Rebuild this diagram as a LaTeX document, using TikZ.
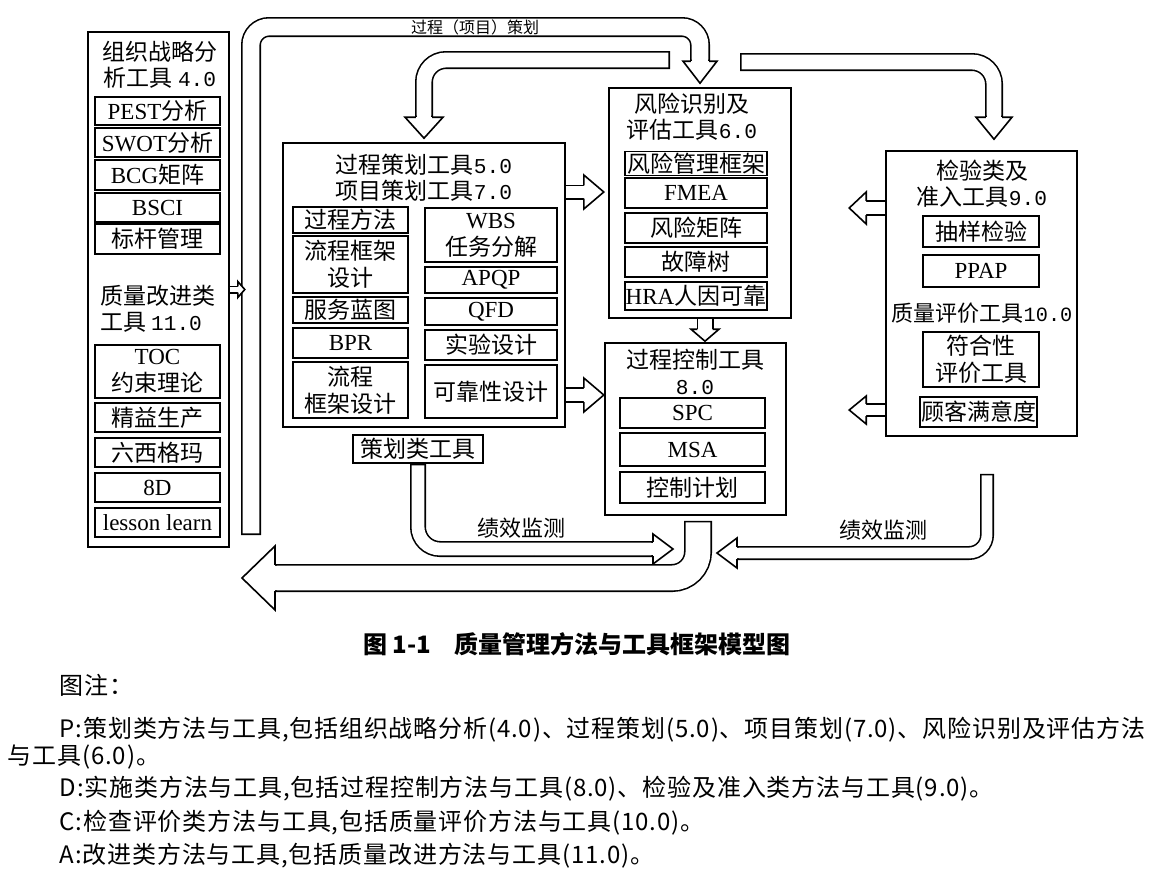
\documentclass[tikz,border=0pt]{standalone}
\usepackage{fontspec}
\setmainfont{Liberation Serif}
\newfontfamily\cjk{Noto Sans CJK SC}
\newfontfamily\cjknote[LetterSpace=3.5]{Noto Sans CJK SC}
\newfontfamily\numfont[Scale=0.92]{Liberation Mono}
\usetikzlibrary{calc}
\newcommand\en[1]{{\rmfamily #1}}
\newcommand\nm[1]{{\numfont #1}}

\tikzset{
  frame/.style={draw,line width=0.8pt,inner sep=0pt,fill=white},
  tool/.style={draw,line width=0.8pt,inner sep=0pt,align=center,font=\cjk\fontsize{11.5}{13.5}\selectfont},
  title/.style={inner sep=0pt,align=center,font=\cjk\fontsize{11.5}{13}\selectfont},
  flowtext/.style={inner sep=0pt,font=\cjk\fontsize{11}{13}\selectfont},
  band/.style 2 args={draw,double=white,double distance=#1,line cap=rect,shorten >=#2},
  stub/.style={draw,double=white,double distance=#1,line cap=butt},
  pics/fathead/.style args={#1/#2/#3}{code={
    \fill[white] ({-#1-2.5},{1.8-#3}) rectangle ({-#1+0.5},{#3-1.8});
    \filldraw[fill=white] (-#1,{0.8-#3}) -- (-#1,-#2) -- (0,0) -- (-#1,#2) -- (-#1,{#3-0.8});
  }},
  note/.style={inner sep=0pt,anchor=base west,font=\cjknote\fontsize{12}{14}\selectfont}
}

\begin{document}
\begin{tikzpicture}[x=0.5pt,y=-0.5pt,line width=0.8pt]
\useasboundingbox (0,0) rectangle (1150,868);
\fill[white] (0,0) rectangle (1150,868);

\node[frame,minimum width=70.5pt,minimum height=257.5pt] (lbox) at (158.5,289.5) {};
\node[title] (lboxt) at (160,65) {组织战略分\\析工具 \nm{4.0}};
\node[tool,minimum width=62.5pt,minimum height=14pt] (pest) at (157.5,111) {\en{PEST}分析};
\node[tool,minimum width=62.5pt,minimum height=14.5pt] (swot) at (157.5,142.5) {\en{SWOT}分析};
\node[tool,minimum width=62.5pt,minimum height=15pt] (bcg) at (157.5,175) {\en{BCG}矩阵};
\node[tool,minimum width=62.5pt,minimum height=14.5pt] (bsci) at (157.5,207.5) {\en{BSCI}};
\node[tool,minimum width=62.5pt,minimum height=15pt] (bench) at (157.5,239) {标杆管理};
\node[title,align=left] (lboxt2) at (157.5,308.5) {质量改进类\\工具 \nm{11.0}};
\node[tool,minimum width=62.5pt,minimum height=26.5pt] (toc) at (157.5,371.5) {\en{TOC}\\约束理论};
\node[tool,minimum width=62.5pt,minimum height=14.5pt] (lean) at (157.5,417.5) {精益生产};
\node[tool,minimum width=62.5pt,minimum height=14.5pt] (sigma) at (157.5,452.5) {六西格玛};
\node[tool,minimum width=62.5pt,minimum height=14.5pt] (eightd) at (157.5,487.5) {\en{8D}};
\node[tool,minimum width=62.5pt,minimum height=14.5pt] (lesson) at (157.5,522.5) {\en{lesson learn}};

\node[frame,minimum width=141pt,minimum height=142pt] (plan) at (424,285) {};
\node[title] (plant) at (424,177.5) {过程策划工具\nm{5.0}\\项目策划工具\nm{7.0}};
\node[tool,minimum width=57.5pt,minimum height=13pt] (proc) at (350.5,220) {过程方法};
\node[tool,minimum width=57.5pt,minimum height=28.5pt] (flow) at (350.5,264.5) {流程框架\\设计};
\node[tool,minimum width=57.5pt,minimum height=13pt] (blue) at (350.5,310) {服务蓝图};
\node[tool,minimum width=57.5pt,minimum height=15pt] (bpr) at (350.5,343) {\en{BPR}};
\node[tool,minimum width=57.5pt,minimum height=28pt] (flow2) at (350.5,390) {流程\\框架设计};
\node[tool,minimum width=66pt,minimum height=27pt] (wbs) at (491,235) {\en{WBS}\\任务分解};
\node[tool,minimum width=66pt,minimum height=13pt] (apqp) at (491,280) {\en{APQP}};
\node[tool,minimum width=66pt,minimum height=13.5pt] (qfd) at (491,311.5) {\en{QFD}};
\node[tool,minimum width=66pt,minimum height=15pt] (doe) at (491,345) {实验设计};
\node[tool,minimum width=66pt,minimum height=26.5pt] (rel) at (491,391.5) {可靠性设计};
\node[tool,minimum width=65pt,minimum height=14pt] (tools) at (418,449) {策划类工具};

\node[frame,minimum width=91pt,minimum height=115pt] (risk) at (700,203) {};
\node[title] (riskt) at (692,116.5) {风险识别及\\评估工具\nm{6.0}};
\node[tool,minimum width=71pt,minimum height=12pt] (rmf) at (696,163.5) {风险管理框架};
\node[tool,minimum width=71pt,minimum height=15pt] (fmea) at (696,193) {\en{FMEA}};
\node[tool,minimum width=71pt,minimum height=15pt] (matrix) at (696,228) {风险矩阵};
\node[tool,minimum width=71pt,minimum height=15pt] (fta) at (696,262) {故障树};
\node[tool,minimum width=71pt,minimum height=14pt] (hra) at (696,296) {\en{HRA}人因可靠};

\node[frame,minimum width=90.5pt,minimum height=86pt] (ctrl) at (695.5,429) {};
\node[title] (ctrlt) at (695,371.5) {过程控制工具\\\nm{8.0}};
\node[tool,minimum width=72.5pt,minimum height=15pt] (spc) at (692.5,413) {\en{SPC}};
\node[tool,minimum width=72.5pt,minimum height=16.5pt] (msa) at (692.5,449.5) {\en{MSA}};
\node[tool,minimum width=72.5pt,minimum height=15.5pt] (cplan) at (692.5,487.5) {控制计划};

\node[frame,minimum width=95.5pt,minimum height=142.5pt] (insp) at (981.5,293.5) {};
\node[title] (inspt) at (982,183.5) {检验类及\\准入工具\nm{9.0}};
\node[tool,minimum width=58pt,minimum height=15.5pt] (sample) at (981,231.5) {抽样检验};
\node[tool,minimum width=58pt,minimum height=16pt] (ppap) at (981,271) {\en{PPAP}};
\node[title,font=\cjk\fontsize{11}{13}\selectfont] (evalt) at (982,313) {质量评价工具\nm{10.0}};
\node[tool,minimum width=58pt,minimum height=27.5pt] (conf) at (981,359.5) {符合性\\评价工具};
\node[tool,minimum width=58.5pt,minimum height=15pt] (csat) at (978.5,412) {顾客满意度};

\coordinate (aTail) at (251,525);
\coordinate (aTop) at (251,27);
\coordinate (aTip) at ($(risk.north)+(0,-4)$);
\draw[band={8.4pt}{5pt},rounded corners=9pt] (aTail) -- (aTop) -- (aTop -| aTip) -- ($(aTip)+(0,-22)$);
\pic[rotate=-90] at (aTip) {fathead=22/17/10};
\node[flowtext,font=\cjk\fontsize{8}{10}\selectfont] (planlbl) at (475,27) {过程（项目）策划};

\coordinate (bTail) at (661,60);
\coordinate (bTip) at ($(plan.north)+(0,-4)$);
\draw[band={7.4pt}{4.5pt},rounded corners=11pt] (bTail) -- (bTail -| bTip) -- ($(bTip)+(0,-21)$);
\pic[rotate=-90] at (bTip) {fathead=21/19/9};

\coordinate (cTail) at (749,62);
\coordinate (cTip) at ($(insp.north)+(12.5,-11)$);
\draw[band={7.4pt}{4.5pt},rounded corners=11pt] (cTail) -- (cTail -| cTip) -- ($(cTip)+(0,-22)$);
\pic[rotate=-90] at (cTip) {fathead=22/18/9};

\coordinate (dTail) at ($(tools.south)+(0,8)$);
\coordinate (dTip) at (673,549);
\draw[band={6.4pt}{4pt},rounded corners=11pt] (dTail) -- (dTail |- dTip) -- ($(dTip)+(-20,0)$);
\pic at (dTip) {fathead=20/15/8};
\node[flowtext] (perf1) at (521,528) {绩效监测};

\coordinate (eTail) at ($(ctrl.south)+(2.5,19)$);
\coordinate (eTip) at (242,578);
\draw[band={12.4pt}{7pt},rounded corners=13pt] (eTail) -- (eTail |- eTip) -- ($(eTip)+(33,0)$);
\pic[rotate=180] at (eTip) {fathead=33/32/14};

\coordinate (fTail) at ($(insp.south)+(5.5,44)$);
\coordinate (fTip) at (717,553);
\draw[band={5.4pt}{3.5pt},rounded corners=9pt] (fTail) -- (fTail |- fTip) -- ($(fTip)+(20,0)$);
\pic[rotate=180] at (fTip) {fathead=20/15/7};
\node[flowtext] (perf2) at (883,530) {绩效监测};

\coordinate (s1a) at (lbox.east);
\coordinate (s1t) at ($(lbox.east)+(15,0)$);
\draw[stub=2.4pt] (s1a) -- ($(s1t)+(-7,0)$);
\pic at (s1t) {fathead=7/8/4};

\coordinate (s2a) at ($(plan.east)+(0,-93)$);
\coordinate (s2t) at ($(s2a)+(38,0)$);
\draw[stub=5.9pt] (s2a) -- ($(s2t)+(-20,0)$);
\pic at (s2t) {fathead=20/17/7.5};

\coordinate (s3a) at ($(plan.east)+(0,110)$);
\coordinate (s3t) at ($(s3a)+(38,0)$);
\draw[stub=6.4pt] (s3a) -- ($(s3t)+(-20,0)$);
\pic at (s3t) {fathead=20/17/8};

\coordinate (s4a) at ($(risk.south)+(5,0)$);
\coordinate (s4t) at ($(ctrl.north)+(9.5,-1)$);
\draw[stub=6.9pt] (s4a) -- ($(s4t)+(0,-12)$);
\pic[rotate=-90] at (s4t) {fathead=12/14/8.5};

\coordinate (s5a) at ($(insp.west)+(0,-85.5)$);
\coordinate (s5t) at ($(s5a)+(-36,0)$);
\draw[stub=6.4pt] (s5a) -- ($(s5t)+(17,0)$);
\pic[rotate=180] at (s5t) {fathead=17/16/8};

\coordinate (s6a) at ($(insp.west)+(0,116.5)$);
\coordinate (s6t) at ($(s6a)+(-36,0)$);
\draw[stub=5.4pt] (s6a) -- ($(s6t)+(17,0)$);
\pic[rotate=180] at (s6t) {fathead=17/14/7};

\node[inner sep=0pt,font=\cjk\bfseries\fontsize{12}{14}\selectfont] (cap) at (577,644) {图 1-1\quad 质量管理方法与工具框架模型图};
\node[note] (n0) at (59,694) {图注：};
\node[note] (n1) at (59,737) {P:策划类方法与工具,包括组织战略分析(4.0)、过程策划(5.0)、项目策划(7.0)、风险识别及评估方法};
\node[note] (n2) at (7,764) {与工具(6.0)。};
\node[note] (n3) at (59,796) {D:实施类方法与工具,包括过程控制方法与工具(8.0)、检验及准入类方法与工具(9.0)。};
\node[note] (n4) at (59,830) {C:检查评价类方法与工具,包括质量评价方法与工具(10.0)。};
\node[note] (n5) at (59,863) {A:改进类方法与工具,包括质量改进方法与工具(11.0)。};
\end{tikzpicture}
\end{document}
